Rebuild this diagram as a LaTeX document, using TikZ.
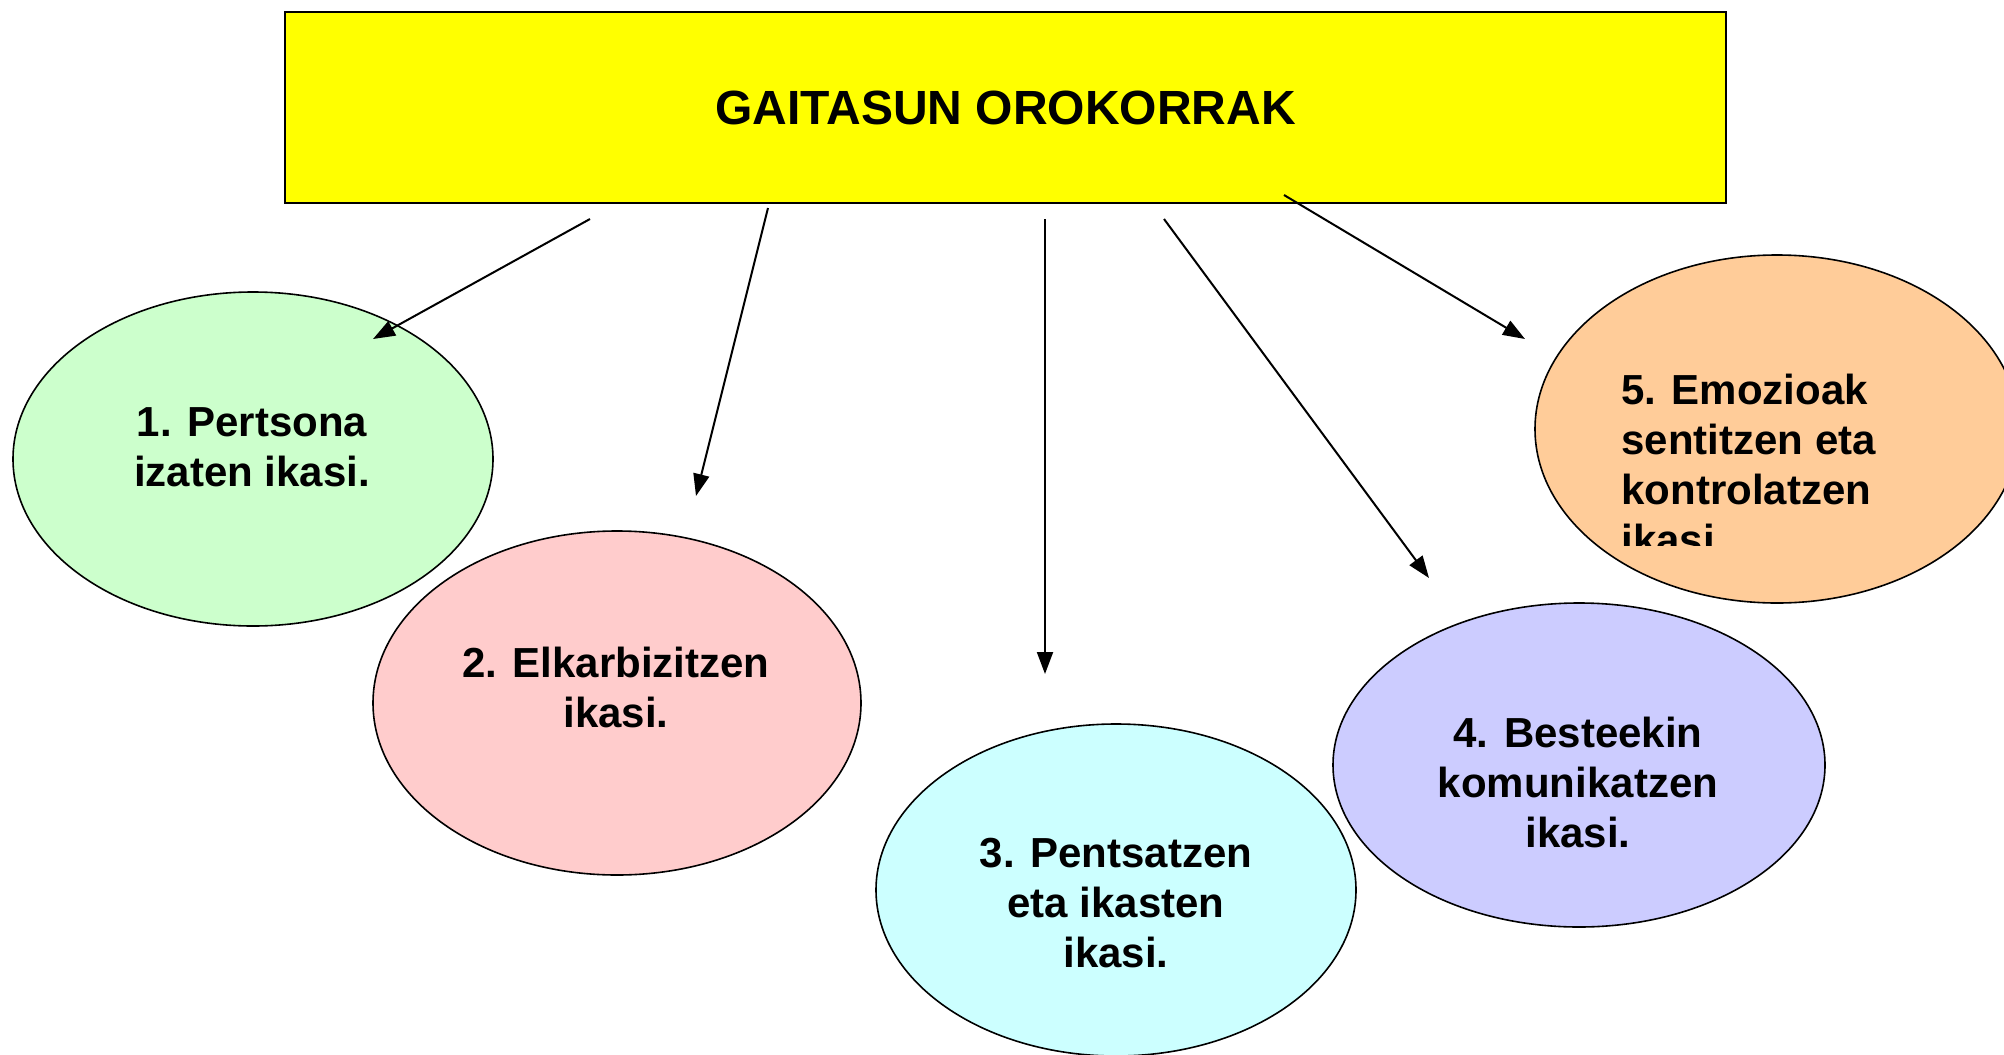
\documentclass[tikz,border=0pt]{standalone}
\usepackage{fontspec}
\setmainfont{Liberation Sans}
\usetikzlibrary{shapes.geometric,arrows.meta}
\definecolor{lemon}{HTML}{FFFF00}
\definecolor{mint}{HTML}{CCFFCC}
\definecolor{rose}{HTML}{FFCCCC}
\definecolor{ice}{HTML}{CCFFFF}
\definecolor{lilac}{HTML}{CCCCFF}
\definecolor{peach}{HTML}{FFCC99}

\begin{document}
\begin{tikzpicture}[x=0.5pt,y=-0.5pt,
    goal/.style={ellipse,draw,line width=0.8pt,inner sep=0pt},
    goaltext/.style={font=\fontsize{21}{25}\selectfont\bfseries,align=center,inner sep=0pt},
    link/.style={line width=1pt,-{Triangle[length=11pt,width=8pt]}}]
    \useasboundingbox (0,0) rectangle (2004,1055);
    \clip (0,0) rectangle (2004,1055);
    \node[draw,line width=0.9pt,fill=lemon,minimum width=720.5pt,minimum height=95.5pt,inner sep=0pt,
        font=\fontsize{24}{28}\selectfont\bfseries] (head) at (1005.5,107.5) {GAITASUN OROKORRAK};
    % the five goals
    \node[goal,fill=mint,minimum width=240pt,minimum height=167pt] (e1) at (253,459) {};
    \node[goal,fill=rose,minimum width=244pt,minimum height=172pt] (e2) at (617,703) {};
    \node[goal,fill=ice,minimum width=240pt,minimum height=166pt] (e3) at (1116,890) {};
    \node[goal,fill=lilac,minimum width=246pt,minimum height=162pt] (e4) at (1579,765) {};
    \node[goal,fill=peach,minimum width=242pt,minimum height=174pt] (e5) at (1777,429) {};
    \node[goaltext] (t1) at (252,447) {1. Pertsona\\izaten ikasi.};
    \node[goaltext] (t2) at (616,687) {2. Elkarbizitzen\\ikasi.};
    \node[goaltext] (t3) at (1116,903) {3. Pentsatzen\\eta ikasten\\ikasi.};
    \node[goaltext] (t4) at (1578,782) {4. Besteekin\\komunikatzen\\ikasi.};
    \begin{scope}
        \clip (1500,250) rectangle (2004,545);
        \node[goaltext,align=left,anchor=west] (t5) at (1621,464) {5. Emozioak\\sentitzen eta\\kontrolatzen\\ikasi.};
    \end{scope}
    % arrows
    \coordinate (from1) at (590,219);  \coordinate (to1) at (373,339);
    \coordinate (from2) at (768,208);  \coordinate (to2) at (696,496);
    \coordinate (from3) at (1045,219); \coordinate (to3) at (1045,674);
    \coordinate (from4) at (1164,219); \coordinate (to4) at (1429,578);
    \coordinate (from5) at (1284,195); \coordinate (to5) at (1525,339);
    \foreach \i in {1,...,5}
        \draw[link] (from\i) -- (to\i);
\end{tikzpicture}
\end{document}
